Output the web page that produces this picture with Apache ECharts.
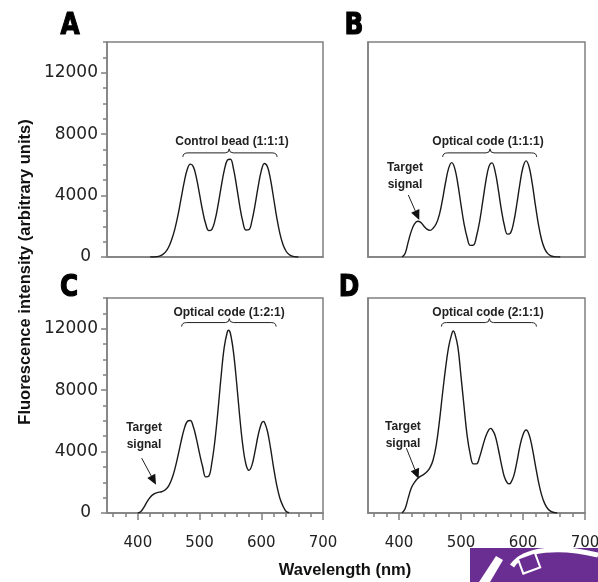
<!DOCTYPE html>
<html><head><meta charset="utf-8">
<script src="https://cdn.jsdelivr.net/npm/echarts@6/dist/echarts.min.js"></script>
<style>html,body{margin:0;padding:0;background:#fff}#c{width:598px;height:582px}</style>
</head><body><div id="c"></div>
<script>
// ---- data ----
const wlA  = [420,425,430,435,440,445,450,455,460,465,470,475,480,485,490,495,500,505,510,515,520,525,530,535,540,545,550,555,560,565,570,575,580,585,590,595,600,605,610,615,620,625,630,635,640,645,650,655,660];
const intA = [0,0,20,60,150,330,650,1150,1830,2720,3800,4860,5700,6050,5870,5140,4080,3000,2145,1720,1805,2400,3390,4570,5640,6310,6370,5735,4605,3345,2315,1760,1780,2385,3415,4605,5610,6090,5875,5035,3825,2585,1550,825,390,165,60,20,0];

const wlB  = [405,410,415,420,425,430,435,440,445,450,455,460,465,470,475,480,485,490,495,500,505,510,515,520,525,530,535,540,545,550,555,560,565,570,575,580,585,590,595,600,605,610,615,620,625,630,635,640,645,650,655,660];
const intB = [0,250,1000,1700,2150,2330,2255,2020,1815,1735,1870,2160,2745,3700,4835,5770,6145,5755,4730,3395,2145,1250,760,770,1350,2310,3600,4925,5885,6130,5575,4435,3105,2050,1490,1570,2270,3435,4760,5845,6260,5845,4760,3375,2090,1125,530,220,75,25,8,0];

const wlC  = [400,405,410,415,420,425,430,435,440,445,450,455,460,465,470,475,480,485,490,495,500,505,510,515,520,525,530,535,540,545,547,550,555,560,565,570,575,580,585,590,595,600,603,605,610,615,620,625,630,635,640,645];
const intC = [0,100,380,745,1030,1215,1315,1355,1410,1530,1770,2210,2870,3720,4650,5460,5960,6020,5595,4805,3860,3010,2350,2400,3300,4760,6750,8950,10795,11800,11900,11690,10465,8500,6300,4415,3190,2780,3135,4040,5080,5815,5960,5920,5325,4220,2945,1810,980,465,120,20];

const wlD  = [405,410,415,420,425,430,435,440,445,450,455,460,465,470,475,480,485,487.5,490,495,500,505,510,515,520,525,530,535,540,545,548,550,555,560,565,570,575,578,580,585,590,595,600,605,610,615,620,625,630,635,640,645,650,655];
const intD = [0,300,1000,1650,2000,2250,2400,2520,2680,2950,3450,4400,5900,7700,9400,10800,11650,11850,11700,10800,8900,6900,5000,3800,3200,3200,3650,4350,5000,5430,5510,5450,5050,4200,3200,2350,1950,1900,1950,2400,3300,4350,5100,5400,5080,4220,3100,2030,1180,610,280,110,30,0];

const panelLetters = ['A','B','C','D'];
const codeLabels = ['Control bead (1:1:1)','Optical code (1:1:1)','Optical code (1:2:1)','Optical code (2:1:1)'];
const xMajorTicks = [400,500,600,700];
const xMinorTicks = [360,380,420,440,460,480,520,540,560,580,620,640,660,680];
const yMajorTicks = [0,4000,8000,12000];
const yMinorTicks = [1000,2000,3000,5000,6000,7000,9000,10000,11000,13000,14000];
const xTitle = 'Wavelength (nm)';
const yTitle = 'Fluorescence intensity (arbitrary units)';
const targetText = 'Target\nsignal';

const wls = [wlA, wlB, wlC, wlD];
const ints = [intA, intB, intC, intD];
const grids = [
  {left:107, top:42, width:216, height:215},
  {left:368, top:42, width:217, height:215},
  {left:107, top:298, width:216, height:215},
  {left:368, top:298, width:217, height:215}
];
const braces = [
  {b:[473,625.5,548,6780], t:[552.6,7520]},
  {b:[470.5,622,546.8,6780], t:[543.5,7480]},
  {b:[471,624,548.2,12400], t:[547.8,13050]},
  {b:[468.4,621.6,545.8,12400], t:[543.5,13050]}
];
const arrows = [
  null,
  {a:[415,4040,432.7,2410], t:[409.7,5235]},
  {a:[406.2,3570,429.4,1837], t:[410,5017]},
  {a:[411.9,4220,431.7,2226], t:[406.4,5080]}
];
const axisColor = '#808080';
const lineW = 1.5;
const tickFont = 'DejaVu Sans';

const xAxes = [], yAxes = [];
for (let i = 0; i < 4; i++) {
  const bottom = i >= 2, left = (i % 2) === 0;
  xAxes.push({gridIndex:i, type:'value', min:350, max:700, position:'bottom',
    axisLine:{show:true, onZero:false, lineStyle:{color:axisColor, width:lineW}},
    axisTick:{show:bottom, inside:false, length:7, customValues:xMajorTicks, lineStyle:{color:axisColor, width:lineW}},
    axisLabel:{show:bottom, customValues:xMajorTicks, margin:23, fontSize:15, fontFamily:tickFont, color:'#222', formatter: v => String(v)},
    splitLine:{show:false}});
  yAxes.push({gridIndex:i, type:'value', min:0, max:14000, position:'left',
    axisLine:{show:true, onZero:false, lineStyle:{color:axisColor, width:lineW}},
    axisTick:{show:left, inside:false, length:6, customValues:yMajorTicks, lineStyle:{color:axisColor, width:lineW}},
    axisLabel:{show:left, customValues:yMajorTicks, margin:9, fontSize:17, fontFamily:tickFont, color:'#222',
      formatter: v => (v === 0 ? '{z|0}' : String(v)),
      rich:{z:{fontSize:17, fontFamily:tickFont, color:'#222', padding:[0,7,0,0]}}},
    splitLine:{show:false}});
}
for (let i = 0; i < 4; i++) {
  const bottom = i >= 2, left = (i % 2) === 0;
  xAxes.push({gridIndex:i, type:'value', min:350, max:700, position:'bottom', offset:0,
    axisLine:{show:false, onZero:false},
    axisTick:{show:bottom, inside:false, length:4, customValues:xMinorTicks, lineStyle:{color:axisColor, width:lineW}},
    axisLabel:{show:false}, splitLine:{show:false}});
  yAxes.push({gridIndex:i, type:'value', min:0, max:14000, position:'left', offset:0,
    axisLine:{show:false, onZero:false},
    axisTick:{show:left, inside:false, length:4, customValues:yMinorTicks, lineStyle:{color:axisColor, width:lineW}},
    axisLabel:{show:false}, splitLine:{show:false}});
}

const series = [0,1,2,3].map(i => ({
  type:'line', xAxisIndex:i, yAxisIndex:i, smooth:0.4, symbol:'none',
  lineStyle:{color:'#1a1a1a', width:1.4},
  data: wls[i].map((w,k) => [w, ints[i][k]])
}));

for (let i = 0; i < 4; i++) {
  const br = braces[i];
  series.push({
    type:'custom', xAxisIndex:i, yAxisIndex:i, clip:false, silent:true,
    data:[[br.b[0], br.b[3], br.b[1], br.b[2], br.t[0], br.t[1]]],
    encode:{x:0, y:1},
    renderItem:(params, api) => {
      const pL = api.coord([api.value(0), api.value(1)]);
      const pR = api.coord([api.value(2), api.value(1)]);
      const pM = api.coord([api.value(3), api.value(1)]);
      const pt = api.coord([api.value(4), api.value(5)]);
      const y = pL[1];
      const d = `M${pL[0]} ${y+4} Q${pL[0]} ${y} ${pL[0]+5} ${y} L${pM[0]-4} ${y} Q${pM[0]} ${y} ${pM[0]} ${y-4} Q${pM[0]} ${y} ${pM[0]+4} ${y} L${pR[0]-5} ${y} Q${pR[0]} ${y} ${pR[0]} ${y+4}`;
      return {type:'group', children:[
        {type:'path', shape:{pathData:d}, style:{fill:'none', stroke:'#222', lineWidth:1}},
        {type:'text', x:pt[0], y:pt[1], style:{text:codeLabels[i], fill:'#222', font:'bold 12px "Liberation Sans", Arial, sans-serif', align:'center', verticalAlign:'middle'}}
      ]};
    }
  });
  const ar = arrows[i];
  if (ar) {
    series.push({
      type:'custom', xAxisIndex:i, yAxisIndex:i, clip:false, silent:true,
      data:[[ar.a[0], ar.a[1], ar.a[2], ar.a[3], ar.t[0], ar.t[1]]],
      encode:{x:0, y:1},
      renderItem:(params, api) => {
        const p1 = api.coord([api.value(0), api.value(1)]);
        const p2 = api.coord([api.value(2), api.value(3)]);
        const pt = api.coord([api.value(4), api.value(5)]);
        const dx = p2[0]-p1[0], dy = p2[1]-p1[1], L = Math.hypot(dx,dy);
        const ux = dx/L, uy = dy/L, hl = 10, hw = 4.5;
        const bx = p2[0]-ux*hl, by = p2[1]-uy*hl;
        return {type:'group', children:[
          {type:'line', shape:{x1:p1[0], y1:p1[1], x2:bx, y2:by}, style:{stroke:'#222', lineWidth:1}},
          {type:'polygon', shape:{points:[[p2[0],p2[1]],[bx-uy*hw, by+ux*hw],[bx+uy*hw, by-ux*hw]]}, style:{fill:'#111'}},
          {type:'text', x:pt[0], y:pt[1], style:{text:targetText, fill:'#222', font:'bold 12px "Liberation Sans", Arial, sans-serif', align:'center', verticalAlign:'middle', lineHeight:17}}
        ]};
      }
    });
  }
}

const letterPos = [[70,26],[354,26],[69,288],[349,288]];
const graphic = [];
panelLetters.forEach((l,k) => graphic.push({
  type:'text', x:letterPos[k][0], y:letterPos[k][1], scaleX:0.8,
  style:{text:l, fill:'#000', stroke:'#000', lineWidth:1.2, font:'bold 31px "DejaVu Sans", sans-serif', align:'center', verticalAlign:'middle'}
}));
graphic.push({type:'text', x:345, y:570, style:{text:xTitle, fill:'#111', font:'bold 16.5px "Liberation Sans", Arial, sans-serif', align:'center', verticalAlign:'middle'}});
graphic.push({type:'text', x:25, y:272, rotation:Math.PI/2, style:{text:yTitle, fill:'#111', font:'bold 16.5px "Liberation Sans", Arial, sans-serif', align:'center', verticalAlign:'middle'}});
graphic.push({type:'rect', shape:{x:470, y:548, width:128, height:34}, style:{fill:'#6a2d91'}});
graphic.push({type:'polygon', shape:{points:[[479,582],[490,582],[503,560],[496,556]]}, style:{fill:'#fff'}});
graphic.push({type:'bezierCurve', shape:{x1:512, y1:566, cpx1:524, cpy1:548, cpx2:560, cpy2:546, x2:598, y2:555}, style:{fill:'none', stroke:'#fff', lineWidth:5}});
graphic.push({type:'rect', x:529, y:563, rotation:0.35, shape:{x:-9, y:-8, width:18, height:16}, style:{fill:'#6a2d91', stroke:'#fff', lineWidth:2}});

const chart = echarts.init(document.getElementById('c'), null, {renderer:'canvas'});
chart.setOption({
  animation:false, backgroundColor:'#fff',
  grid: grids.map(g => Object.assign({show:true, borderColor:axisColor, borderWidth:lineW, containLabel:false, outerBoundsMode:'none'}, g)),
  xAxis:xAxes, yAxis:yAxes, series
});
try { chart.setOption({graphic}); } catch(e) { console.error(e); }
</script></body></html>
